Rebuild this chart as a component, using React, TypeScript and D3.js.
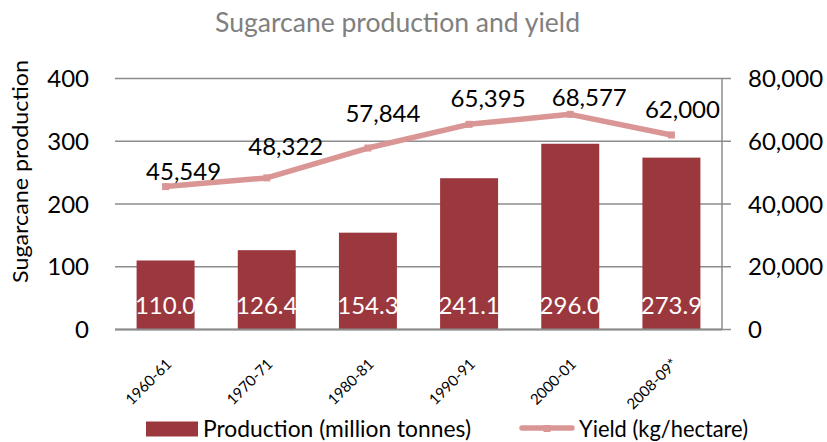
import React from "react";
import * as d3 from "d3";

const categories = ["1960-61", "1970-71", "1980-81", "1990-91", "2000-01", "2008-09*"];
const production = [110.0, 126.4, 154.3, 241.1, 296.0, 273.9];
const yieldKgHa = [45549, 48322, 57844, 65395, 68577, 62000];
const leftTicks = [0, 100, 200, 300, 400];
const rightTicks = [0, 20000, 40000, 60000, 80000];

// layout nudges for the yield data labels (dx, dy of baseline from point)
const yieldLabelNudge: [number, number][] = [
  [18, -7],
  [19, -23],
  [15, -26],
  [19, -17],
  [19, -8],
  [11, -17],
];

const W = 827;
const H = 442;
const M = { left: 115, right: 722, top: 78.5, bottom: 329.5 };

const BAR = "#9B383E";
const LINE = "#D99694";
const GRID = "#8C8C8C";
const NUMFONT = "Lato, 'Noto Sans', sans-serif";

export default function App() {
  const x = d3
    .scaleBand<string>()
    .domain(categories)
    .range([M.left, M.right])
    .paddingInner(0.427)
    .paddingOuter(0.2135);
  const yL = d3.scaleLinear().domain([0, 400]).range([M.bottom, M.top]);
  const yR = d3.scaleLinear().domain([0, 80000]).range([M.bottom, M.top]);
  const cx = (c: string) => (x(c) as number) + x.bandwidth() / 2;
  const fmt = d3.format(",");

  const linePts: [number, number][] = categories.map((c, i) => [cx(c), yR(yieldKgHa[i])]);
  const lineGen = d3.line();

  return (
    <svg
      width={W}
      height={H}
      style={{ position: "absolute", left: 0, top: 0, background: "#fff" }}
    >
      <rect x={0} y={0} width={W} height={H} fill="#fff" />
      {/* Title */}
      <text
        x={397.5}
        y={32}
        textAnchor="middle"
        fontFamily={NUMFONT}
        fontSize={26}
        fill="#808080"
        textLength={365}
        lengthAdjust="spacingAndGlyphs"
      >
        Sugarcane production and yield
      </text>

      {/* Gridlines */}
      {leftTicks.map((t) => (
        <line key={"g" + t} x1={M.left} x2={M.right} y1={yL(t)} y2={yL(t)} stroke={GRID} strokeWidth={1.5} />
      ))}
      {/* right axis */}
      <line x1={M.right} x2={M.right} y1={M.top} y2={M.bottom} stroke={GRID} strokeWidth={1.5} />
      {rightTicks.map((t) => (
        <line key={"rt" + t} x1={M.right} x2={M.right + 9} y1={yR(t)} y2={yR(t)} stroke={GRID} strokeWidth={1.5} />
      ))}

      {/* Left tick labels */}
      {leftTicks.map((t) => (
        <text key={"l" + t} x={89} y={yL(t) + 8.5} textAnchor="end" fontFamily={NUMFONT} fontSize={24} fill="#000">
          {t}
        </text>
      ))}
      {/* Right tick labels */}
      {rightTicks.map((t) => (
        <text key={"r" + t} x={748} y={yR(t) + 8.5} textAnchor="start" fontFamily={NUMFONT} fontSize={24} fill="#000">
          {fmt(t)}
        </text>
      ))}

      {/* Y title */}
      <text
        transform={`translate(28,171.5) rotate(-90)`}
        textAnchor="middle"
        fontFamily={NUMFONT}
        fontSize={21}
        fill="#000"
        textLength={223}
        lengthAdjust="spacingAndGlyphs"
      >
        Sugarcane production
      </text>

      {/* Bars */}
      {categories.map((c, i) => (
        <rect
          key={"b" + c}
          x={x(c)}
          y={yL(production[i])}
          width={x.bandwidth()}
          height={yL(0) - yL(production[i])}
          fill={BAR}
        />
      ))}
      {/* baseline axis */}
      <line x1={M.left} x2={M.right} y1={yL(0)} y2={yL(0)} stroke={GRID} strokeWidth={2} />

      {/* Bar labels */}
      {categories.map((c, i) => (
        <text
          key={"bl" + c}
          x={cx(c)}
          y={313.5}
          textAnchor="middle"
          fontFamily={NUMFONT}
          fontSize={24}
          fill="#fff"
        >
          {production[i].toFixed(1)}
        </text>
      ))}

      {/* Yield line */}
      <path d={lineGen(linePts) || ""} fill="none" stroke={LINE} strokeWidth={5.5} strokeLinejoin="round" />
      {linePts.map(([px, py], i) => (
        <rect key={"m" + i} x={px - 3.5} y={py - 3.5} width={7} height={7} fill={LINE} />
      ))}

      {/* Yield labels */}
      {linePts.map(([px, py], i) => (
        <text
          key={"yl" + i}
          x={px + yieldLabelNudge[i][0]}
          y={py + yieldLabelNudge[i][1]}
          textAnchor="middle"
          fontFamily={NUMFONT}
          fontSize={24}
          fill="#000"
        >
          {fmt(yieldKgHa[i])}
        </text>
      ))}

      {/* X labels */}
      {categories.map((c) => (
        <text
          key={"x" + c}
          transform={`translate(${cx(c) + 7},365) rotate(-45)`}
          textAnchor="end"
          fontFamily={NUMFONT}
          fontSize={15}
          fill="#000"
        >
          {c}
        </text>
      ))}

      {/* Legend */}
      <rect x={146} y={421.5} width={52} height={15} fill={BAR} />
      <text
        x={203}
        y={437}
        fontFamily={NUMFONT}
        fontSize={23}
        fill="#000"
        textLength={268}
        lengthAdjust="spacingAndGlyphs"
      >
        Production (million tonnes)
      </text>
      <line x1={522} x2={572} y1={428} y2={428} stroke={LINE} strokeWidth={5.5} strokeLinecap="round" />
      <rect x={543.5} y={425} width={7} height={7} fill={LINE} />
      <text
        x={579}
        y={437}
        fontFamily={NUMFONT}
        fontSize={23}
        fill="#000"
        textLength={169}
        lengthAdjust="spacingAndGlyphs"
      >
        Yield (kg/hectare)
      </text>
    </svg>
  );
}
